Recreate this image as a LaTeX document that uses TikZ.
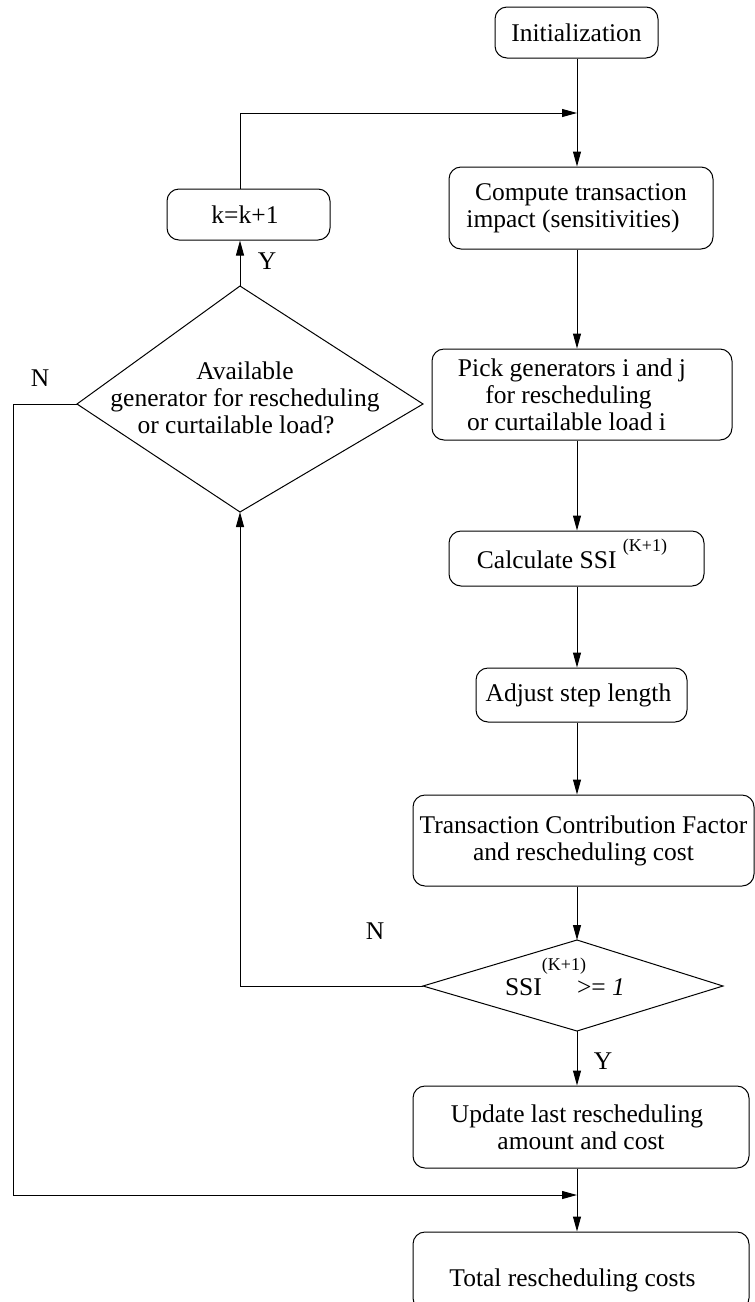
\documentclass[tikz,border=0pt]{standalone}
\usepackage{fontspec}
\setmainfont{Liberation Serif}
\usetikzlibrary{arrows.meta}
\newcommand{\txtleft}[2]{\hbox{#2\kern#1}}
\begin{document}
\begin{tikzpicture}[x=1pt,y=-1pt,line width=1pt,
  box/.style={draw,rounded corners=12pt,align=center,inner sep=0pt,
    font=\fontsize{25.5}{27}\selectfont},
  lbl/.style={inner sep=0pt,font=\fontsize{25.5}{27}\selectfont},
  arr/.style={-{Triangle[length=15pt,width=8pt]}}]
\useasboundingbox (0,0) rectangle (755,1302);
% main column line
\coordinate (m) at (577,0);
% boxes
\node[box,minimum width=163pt,minimum height=51pt] (init) at (576.5,32.5) {Initialization};
\node[box,minimum width=264pt,minimum height=82pt] (comp) at (581,208) {Compute transaction\\\txtleft{16pt}{impact (sensitivities)}};
\node[box,minimum width=300pt,minimum height=91pt] (pick) at (582,394.5)
  {\txtleft{20pt}{Pick generators i and j}\\\txtleft{27pt}{for rescheduling}\\\txtleft{31pt}{or curtailable load i}};
\node[box,minimum width=255pt,minimum height=55pt,text height=22pt,text depth=2pt] (calc) at (576.5,558.5)
  {\txtleft{9pt}{Calculate SSI \raisebox{17pt}{\fontsize{18}{18}\selectfont (K+1)}}};
\node[box,minimum width=211pt,minimum height=54pt] (adj) at (581.5,695) {\txtleft{6pt}{Adjust step length}};
\node[box,minimum width=341pt,minimum height=91pt] (tcf) at (583.5,840.5) {Transaction Contribution Factor\\and rescheduling cost};
\node[box,minimum width=336pt,minimum height=82pt] (upd) at (581,1127) {\txtleft{8pt}{Update last rescheduling}\\amount and cost};
\node[box,minimum width=336pt,minimum height=78pt,text height=37pt,text depth=5.5pt] (tot) at (581,1271)
  {\txtleft{17pt}{Total rescheduling costs}};
\node[box,minimum width=163pt,minimum height=51pt] (k) at (248.5,214.5) {\txtleft{7pt}{k=k+1}};
% decision: available generator
\coordinate (at) at (240,286);
\coordinate (ar) at (423,404);
\coordinate (ab) at (240,512);
\coordinate (al) at (77,404);
\draw (at) -- (ar) -- (ab) -- (al) -- cycle;
\node[lbl,align=center] (availt) at (245,398) {Available\\generator for rescheduling\\\txtleft{18pt}{or curtailable load?}};
% decision: SSI
\coordinate (st) at (577,940);
\coordinate (sr) at (723,986);
\coordinate (sb) at (577,1031);
\coordinate (sl) at (423,986);
\draw (st) -- (sr) -- (sb) -- (sl) -- cycle;
\node[lbl,anchor=base] (ssit) at (565,995)
  {SSI\raisebox{25pt}{\fontsize{18}{18}\selectfont(K+1)}\hspace{-9pt}>= \textit{1}};
% labels
\node[lbl] (n1) at (40,378) {N};
\node[lbl] (y1) at (267,261) {Y};
\node[lbl] (n2) at (375,931) {N};
\node[lbl] (y2) at (603,1061) {Y};
% join points
\coordinate (j1) at (577,113);
\coordinate (j2) at (577,1195);
% connectors
\draw[arr] (init.south -| m) -- (comp.north -| m);
\draw[arr] (k.north -| at) |- (j1);
\draw[arr] (comp.south -| m) -- (pick.north -| m);
\draw[arr] (pick.south -| m) -- (calc.north -| m);
\draw[arr] (calc.south -| m) -- (adj.north -| m);
\draw[arr] (adj.south -| m) -- (tcf.north -| m);
\draw[arr] (tcf.south -| m) -- (st);
\draw[arr] (sb) -- (upd.north -| m);
\draw[arr] (upd.south -| m) -- (tot.north -| m);
\draw[arr] (at) -- (k.south -| at);
\draw[arr] (sl) -| (ab);
\draw[arr] (al) -- ++(-64,0) |- (j2);
\end{tikzpicture}
\end{document}
